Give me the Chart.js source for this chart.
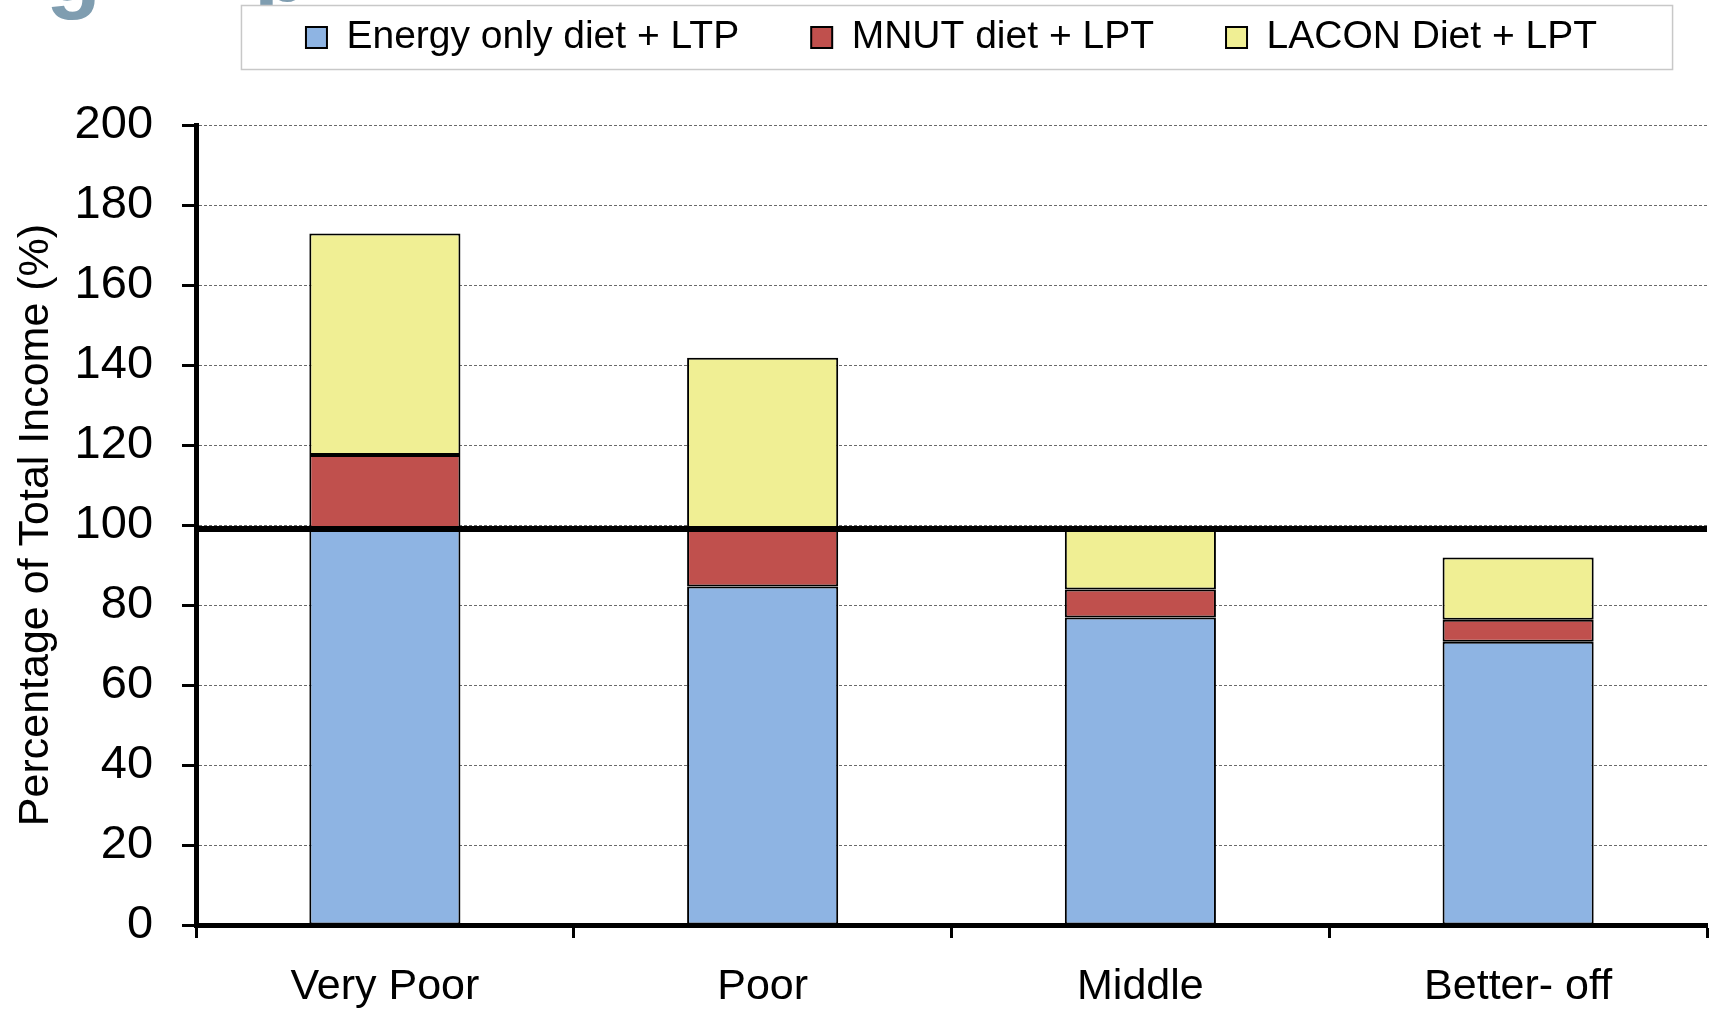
<!DOCTYPE html>
<html>
<head>
<meta charset="utf-8">
<title>Percentage of Total Income</title>
<script src="https://cdn.jsdelivr.net/npm/chart.js@4/dist/chart.umd.min.js"></script>
<style>
  html, body { margin: 0; padding: 0; background: #fff; }
  #wrap { width: 1710px; height: 1009px; }
</style>
</head>
<body>
<div id="wrap"><canvas id="incomeChart" width="1710" height="1009"></canvas></div>
<script>
// wealth groups along the x axis
var categories = ['Very Poor', 'Poor', 'Middle', 'Better- off'];

// stacked segments, % of total income
var energyOnly = [99.0, 84.6, 76.9, 70.8];   // Energy only diet + LTP
var mnutExtra  = [18.5, 14.4, 7.0, 5.5];     // MNUT diet + LPT (on top of energy)
var laconExtra = [55.4, 42.8, 15.1, 15.6];   // LACON Diet + LPT (on top of MNUT)

var yTickValues = [0, 20, 40, 60, 80, 100, 120, 140, 160, 180, 200];

// horizontal marker for total income
var incomeLine = 99.0;

Chart.defaults.font.family = '"Liberation Sans", Arial, sans-serif';
Chart.defaults.color = '#000';

// extra room between the legend and the plot
var legendGap = {
    id: 'legendGap',
    beforeInit: function(chart) {
        var fit = chart.legend.fit;
        chart.legend.fit = function() {
            fit.bind(chart.legend)();
            this.height += 58;
        };
    }
};

// cut-off heading behind the legend, plus the legend frame
var legendFrame = {
    id: 'legendFrame',
    beforeDraw: function(chart) {
        var ctx = chart.ctx;
        ctx.save();
        ctx.fillStyle = '#7F9DB0';
        ctx.font = 'bold 90px "Liberation Sans", Arial, sans-serif';
        ctx.textBaseline = 'alphabetic';
        ctx.fillText('g', 46, 1);
        ctx.fillText('p', 254, 1);

        var boxes = chart.legend.legendHitBoxes;
        if (boxes && boxes.length) {
            var first = boxes[0], last = boxes[boxes.length - 1];
            var x1 = first.left - 65;
            var x2 = last.left + last.width + 75;
            var y1 = first.top - 13;
            var y2 = first.top + first.height + 12;
            ctx.fillStyle = '#fff';
            ctx.fillRect(x1, y1, x2 - x1, y2 - y1);
            ctx.strokeStyle = '#c8c8c8';
            ctx.lineWidth = 1.5;
            ctx.strokeRect(x1 + 0.5, y1 + 0.5, x2 - x1, y2 - y1);
        }
        ctx.restore();
    }
};

// thick black line across the plot at the income level
var incomeMarker = {
    id: 'incomeMarker',
    afterDatasetsDraw: function(chart) {
        var ctx = chart.ctx;
        var area = chart.chartArea;
        var y = chart.scales.y.getPixelForValue(incomeLine);
        ctx.save();
        ctx.strokeStyle = '#000';
        ctx.lineWidth = 6;
        ctx.beginPath();
        ctx.moveTo(area.left, y);
        ctx.lineTo(area.right, y);
        ctx.stroke();
        ctx.restore();
    }
};

var ctx = document.getElementById('incomeChart').getContext('2d');
var incomeChart = new Chart(ctx, {
    type: 'bar',
    data: {
        labels: categories,
        datasets: [
            {
                label: 'Energy only diet + LTP',
                data: energyOnly,
                backgroundColor: '#8EB4E3',
                borderColor: '#000',
                borderWidth: 2,
                borderSkipped: false
            },
            {
                label: 'MNUT diet + LPT',
                data: mnutExtra,
                backgroundColor: '#C0504D',
                borderColor: '#000',
                borderWidth: 2,
                borderSkipped: false
            },
            {
                label: 'LACON Diet + LPT',
                data: laconExtra,
                backgroundColor: '#F0EF94',
                borderColor: '#000',
                borderWidth: 2,
                borderSkipped: false
            }
        ]
    },
    options: {
        responsive: false,
        animation: false,
        categoryPercentage: 1,
        barPercentage: 0.4,
        layout: {
            padding: { top: -54, left: 0, right: 3, bottom: -28 }
        },
        plugins: {
            tooltip: { enabled: false },
            legend: {
                position: 'top',
                fullSize: false,
                labels: {
                    boxWidth: 21,
                    boxHeight: 21,
                    padding: 72,
                    color: '#000',
                    font: { size: 39 }
                }
            }
        },
        scales: {
            x: {
                stacked: true,
                ticks: {
                    padding: 28,
                    color: '#000',
                    font: { size: 43, lineHeight: 1 }
                },
                grid: {
                    display: true,
                    drawOnChartArea: false,
                    offset: true,
                    tickColor: '#000',
                    tickWidth: 3,
                    tickLength: 13
                },
                border: { color: '#000', width: 5 }
            },
            y: {
                stacked: true,
                min: 0,
                max: 200,
                afterBuildTicks: function(scale) {
                    scale.ticks = yTickValues.map(function(v) { return { value: v }; });
                },
                ticks: {
                    padding: 29,
                    color: '#000',
                    font: { size: 47 }
                },
                grid: {
                    color: '#6a6a6a',
                    lineWidth: 1,
                    tickColor: '#000',
                    tickWidth: 3,
                    tickLength: 14
                },
                border: { color: '#000', width: 5, dash: [3, 2] },
                title: {
                    display: true,
                    text: 'Percentage of Total Income (%)',
                    color: '#000',
                    font: { size: 43 },
                    padding: { top: 10, bottom: -16 }
                }
            }
        }
    },
    plugins: [legendGap, legendFrame, incomeMarker]
});
</script>
</body>
</html>
